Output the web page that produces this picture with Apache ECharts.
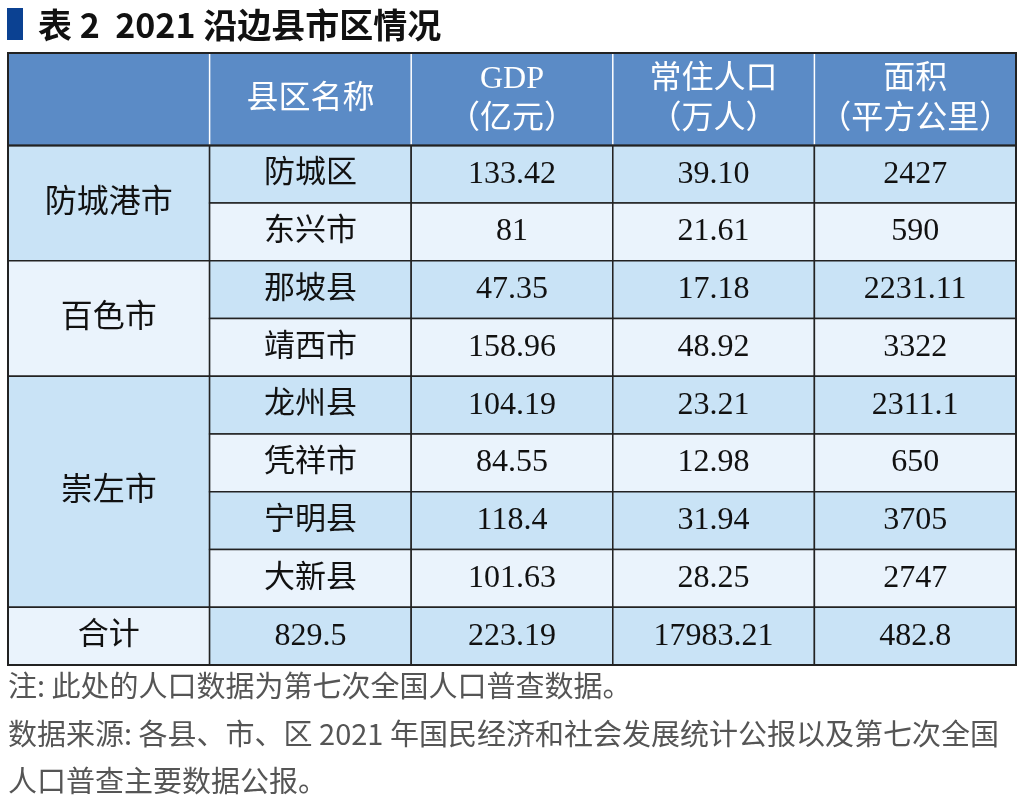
<!DOCTYPE html>
<html><head><meta charset="utf-8">
<script src="https://cdn.jsdelivr.net/npm/echarts@6/dist/echarts.min.js"></script>
<style>html,body{margin:0;padding:0;background:#fff}#c{width:1024px;height:802px}</style>
</head><body><div id="c"></div>
<script>
// ---- data ----
const titleText = '表 2  2021 沿边县市区情况';
const headers = ['', '县区名称', 'GDP\n（亿元）', '常住人口\n（万人）', '面积\n（平方公里）'];
const cityOfCounty = ['防城港市', '防城港市', '百色市', '百色市', '崇左市', '崇左市', '崇左市', '崇左市'];
const counties = ['防城区', '东兴市', '那坡县', '靖西市', '龙州县', '凭祥市', '宁明县', '大新县'];
const gdp = ['133.42', '81', '47.35', '158.96', '104.19', '84.55', '118.4', '101.63'];
const population = ['39.10', '21.61', '17.18', '48.92', '23.21', '12.98', '31.94', '28.25'];
const area = ['2427', '590', '2231.11', '3322', '2311.1', '650', '3705', '2747'];
const totalRow = ['合计', '829.5', '223.19', '17983.21', '482.8'];
const notes = [
  '注: 此处的人口数据为第七次全国人口普查数据。',
  '数据来源: 各县、市、区 2021 年国民经济和社会发展统计公报以及第七次全国',
  '人口普查主要数据公报。'
];

// ---- styles ----
const HEAD = 1.6;
const C_HEAD = '#5b8bc6', C_A = '#c9e3f6', C_B = '#eaf3fc', C_LINE = '#222';
const SERIF = '"Liberation Serif", "Noto Sans CJK SC", serif';
const SANS = '"Noto Sans CJK SC", "Noto Sans", sans-serif';

// ---- build cells from data ----
const cells = [];
headers.forEach((h, c) => cells.push({ value: [c, 0, c + 1, HEAD], text: h, kind: 'head', col: c, fill: C_HEAD }));
let start = 0, g = 0;
for (let i = 1; i <= cityOfCounty.length; i++) {
  if (i === cityOfCounty.length || cityOfCounty[i] !== cityOfCounty[start]) {
    cells.push({ value: [0, HEAD + start, 1, HEAD + i], text: cityOfCounty[start], kind: 'city', fill: g % 2 === 0 ? C_A : C_B });
    for (let j = start; j < i; j++) {
      const fill = (j - start) % 2 === 0 ? C_A : C_B;
      const y0 = HEAD + j;
      cells.push({ value: [1, y0, 2, y0 + 1], text: counties[j], kind: 'name', fill });
      [gdp, population, area].forEach((arr, k) => {
        cells.push({ value: [2 + k, y0, 3 + k, y0 + 1], text: arr[j], kind: 'num', fill });
      });
    }
    start = i; g++;
  }
}
const yT = HEAD + counties.length;
totalRow.forEach((t, c) => cells.push({ value: [c, yT, c + 1, yT + 1], text: t, kind: c === 0 ? 'name' : 'num', fill: c === 0 ? C_B : C_A }));
cells.push({ value: [0, 0, headers.length, yT + 1], text: '', kind: 'frame' });
const Y_MAX = yT + 1;

const chart = echarts.init(document.getElementById('c'), null, { renderer: 'canvas' });
chart.setOption({
  backgroundColor: '#fff',
  animation: false,
  title: {
    text: titleText, left: 33, top: 3,
    textStyle: { fontFamily: SANS, fontSize: 34, fontWeight: 'bold', color: '#111' }
  },
  grid: { left: 8, right: 8, top: 53, bottom: 137 },
  xAxis: { type: 'value', min: 0, max: headers.length, show: false },
  yAxis: { type: 'value', min: 0, max: Y_MAX, inverse: true, show: false },
  graphic: [
    { type: 'rect', left: 7, top: 8, shape: { width: 16, height: 32 }, style: { fill: '#0b4192' } },
    ...notes.map((t, i) => ({
      type: 'text', left: 8, top: [671, 719, 766][i],
      style: { text: t, font: '29px ' + SANS, fill: '#555' }
    }))
  ],
  series: [{
    type: 'custom',
    coordinateSystem: 'cartesian2d',
    encode: { x: [0, 2], y: [1, 3] },
    data: cells.map(c => c.value),
    renderItem(params, api) {
      const c = cells[params.dataIndex];
      const p0 = api.coord([c.value[0], c.value[1]]);
      const p1 = api.coord([c.value[2], c.value[3]]);
      const x = Math.min(p0[0], p1[0]), y = Math.min(p0[1], p1[1]);
      const w = Math.abs(p1[0] - p0[0]), h = Math.abs(p1[1] - p0[1]);
      if (c.kind === 'frame') {
        const hy = api.coord([0, HEAD])[1];
        return {
          type: 'group', children: [
            { type: 'rect', shape: { x, y, width: w, height: h }, style: { fill: null, stroke: C_LINE, lineWidth: 2 } },
            { type: 'line', shape: { x1: x, y1: hy, x2: x + w, y2: hy }, style: { stroke: C_LINE, lineWidth: 2 } }
          ]
        };
      }
      const isHead = c.kind === 'head';
      const size = isHead ? 32 : (c.kind === 'num' ? 32 : (c.kind === 'city' ? 32 : 31));
      const children = [{
        type: 'rect',
        shape: { x, y, width: w, height: h },
        style: { fill: c.fill, stroke: isHead ? null : C_LINE, lineWidth: 1.5 },
        textContent: {
          style: {
            text: c.text,
            fill: isHead ? '#fff' : '#111',
            fontFamily: SERIF,
            fontSize: size,
            lineHeight: 40,
            align: 'center', verticalAlign: 'middle'
          }
        },
        textConfig: { position: 'inside' }
      }];
      if (isHead && c.col > 0) {
        children.push({ type: 'line', shape: { x1: x, y1: y, x2: x, y2: y + h }, style: { stroke: '#fff', lineWidth: 1.5 } });
      }
      return { type: 'group', children };
    }
  }]
});
</script>
</body></html>
